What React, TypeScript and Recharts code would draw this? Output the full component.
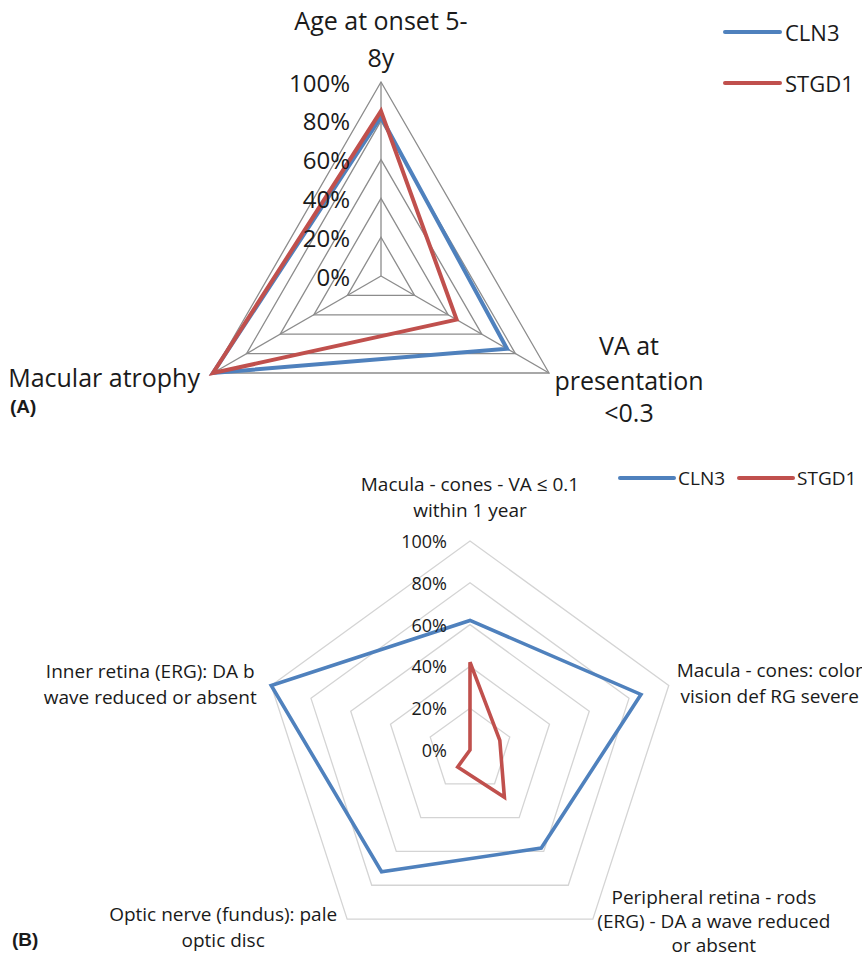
import React from 'react';
import { RadarChart, Radar, PolarGrid, PolarAngleAxis, PolarRadiusAxis, Legend } from 'recharts';

// ---------- data ----------
const seriesNames = ['CLN3', 'STGD1'];
const seriesColors = ['#4F81BD', '#C0504D'];
const radiusTicks = [0, 20, 40, 60, 80, 100];

const topCategoryLines = [['Age at onset 5-', '8y'], ['VA at', 'presentation', '<0.3'], ['Macular atrophy']];
const topCLN3 = [82, 75, 100];
const topSTGD1 = [85, 45, 100];

const bottomCategoryLines = [
  ['Macula - cones - VA ≤ 0.1', 'within 1 year'],
  ['Macula - cones: color', 'vision def RG severe'],
  ['Peripheral retina - rods', '(ERG) - DA a wave reduced', 'or absent'],
  ['Optic nerve (fundus): pale', 'optic disc'],
  ['Inner retina (ERG): DA b', 'wave reduced or absent'],
];
const bottomCLN3 = [62, 86, 58, 72, 100];
const bottomSTGD1 = [42, 15, 28, 10, 0];

const topData = topCategoryLines.map((l, i) => ({ axis: l.join(' '), CLN3: topCLN3[i], STGD1: topSTGD1[i] }));
const bottomData = bottomCategoryLines.map((l, i) => ({ axis: l.join(' '), CLN3: bottomCLN3[i], STGD1: bottomSTGD1[i] }));

// ---------- layout ----------
const FONT = '"Open Sans", sans-serif';
const topLabelLayout = [
  { dx: 0, dys: [-62, -25], anchor: 'middle' },
  { dx: 80, dys: [-28, 7, 39], anchor: 'middle' },
  { dx: -13, dys: [4], anchor: 'end' },
];
const bottomLabelLayout = [
  { dx: 0, dys: [-57, -31], anchor: 'middle' },
  { dx: 101, dys: [-15, 11], anchor: 'middle' },
  { dx: 121, dys: [-22, 2, 26], anchor: 'middle' },
  { dx: -124, dys: [-5, 21], anchor: 'middle' },
  { dx: -121, dys: [-14, 12], anchor: 'middle' },
];

const makeAngleTick = (lines: string[][], layout: any[], fontSize: number, cats: string[]) => (props: any) => {
  const { x, y, payload } = props;
  let index = props.index;
  if (index === undefined || index === null) index = cats.indexOf(payload.value);
  const a = (-payload.coordinate * Math.PI) / 180;
  const vx = x - 8 * Math.cos(a);
  const vy = y - 8 * Math.sin(a);
  const L = layout[index];
  return (
    <g>
      {lines[index].map((ln, i) => (
        <text
          key={i}
          x={vx + L.dx}
          y={vy + L.dys[i]}
          textAnchor={L.anchor}
          dominantBaseline="central"
          fontSize={fontSize}
          fontFamily={FONT}
          fill="#1a1a1a"
        >
          {ln}
        </text>
      ))}
    </g>
  );
};

const makeRadiusTick = (offset: number, fontSize: number) => (props: any) => {
  const { x, y, payload } = props;
  return (
    <text x={x - offset} y={y} textAnchor="end" dominantBaseline="central" fontSize={fontSize} fontFamily={FONT} fill="#1a1a1a">
      {payload.value + '%'}
    </text>
  );
};

const TopLegend = (props: any) => {
  const payload = props.payload || [];
  return (
    <div style={{ fontFamily: FONT }}>
      {payload.map((p: any, i: number) => (
        <div key={i} style={{ display: 'flex', alignItems: 'center', height: 51 }}>
          <svg width={60} height={8} style={{ display: 'block' }}>
            <line x1={2} y1={4} x2={57} y2={4} stroke={p.color} strokeWidth={4} strokeLinecap="round" />
          </svg>
          <span style={{ fontSize: 22, color: '#1a1a1a', marginLeft: 2 }}>{p.value}</span>
        </div>
      ))}
    </div>
  );
};

const BottomLegend = (props: any) => {
  const payload = props.payload || [];
  return (
    <div style={{ fontFamily: FONT, display: 'flex', alignItems: 'center', height: 26 }}>
      {payload.map((p: any, i: number) => (
        <div key={i} style={{ display: 'flex', alignItems: 'center', marginRight: i === 0 ? 12 : 0 }}>
          <svg width={58} height={8} style={{ display: 'block' }}>
            <line x1={2} y1={4} x2={56} y2={4} stroke={p.color} strokeWidth={4} strokeLinecap="round" />
          </svg>
          <span style={{ fontSize: 19, color: '#1a1a1a', marginLeft: 2 }}>{p.value}</span>
        </div>
      ))}
    </div>
  );
};

const topCats = topData.map((d) => d.axis);
const bottomCats = bottomData.map((d) => d.axis);

export default function App() {
  return (
    <div style={{ position: 'absolute', left: 0, top: 0, width: 862, height: 959, background: '#fff', fontFamily: FONT, overflow: 'hidden' }}>
      <div style={{ position: 'absolute', left: 0, top: 0 }}>
        <RadarChart width={862} height={440} data={topData} cx={381} cy={276} outerRadius={194} margin={{ top: 0, right: 0, bottom: 0, left: 0 }}>
          <PolarGrid gridType="polygon" stroke="#8c8c8c" strokeWidth={1.3} radialLines={true} />
          <PolarAngleAxis dataKey="axis" tickLine={false} axisLine={false} tick={makeAngleTick(topCategoryLines, topLabelLayout, 25, topCats)} />
          <PolarRadiusAxis angle={90} domain={[0, 100]} ticks={radiusTicks} tickCount={6} axisLine={false} tick={makeRadiusTick(31, 24)} />
          {seriesNames.map((s, i) => (
            <Radar key={s} name={s} dataKey={s} stroke={seriesColors[i]} strokeWidth={4} fill="none" fillOpacity={0} dot={false} isAnimationActive={false} />
          ))}
          <Legend
            layout="vertical"
            align="right"
            verticalAlign="middle"
            content={TopLegend}
            wrapperStyle={{ left: 723, top: 6, right: 'auto', bottom: 'auto', width: 139 }}
          />
        </RadarChart>
      </div>
      <div style={{ position: 'absolute', left: 0, top: 440 }}>
        <RadarChart width={862} height={519} data={bottomData} cx={470} cy={310} outerRadius={209} margin={{ top: 0, right: 0, bottom: 0, left: 0 }}>
          <PolarGrid gridType="polygon" stroke="#d4d4d4" strokeWidth={1.3} radialLines={false} />
          <PolarAngleAxis dataKey="axis" tickLine={false} axisLine={false} tick={makeAngleTick(bottomCategoryLines, bottomLabelLayout, 19, bottomCats)} />
          <PolarRadiusAxis angle={90} domain={[0, 100]} ticks={radiusTicks} tickCount={6} axisLine={false} tick={makeRadiusTick(23, 18)} />
          {seriesNames.map((s, i) => (
            <Radar key={s} name={s} dataKey={s} stroke={seriesColors[i]} strokeWidth={3.6} fill="none" fillOpacity={0} dot={false} isAnimationActive={false} />
          ))}
          <Legend
            layout="horizontal"
            align="right"
            verticalAlign="bottom"
            content={BottomLegend}
            wrapperStyle={{ left: 618, top: 25, right: 'auto', bottom: 'auto', width: 244 }}
          />
        </RadarChart>
      </div>
      <div style={{ position: 'absolute', left: 10, top: 396, fontFamily: '"Liberation Sans", Arial, sans-serif', fontWeight: 'bold', fontSize: 19, color: '#1a1a1a' }}>(A)</div>
      <div style={{ position: 'absolute', left: 12, top: 929, fontFamily: '"Liberation Sans", Arial, sans-serif', fontWeight: 'bold', fontSize: 19, color: '#1a1a1a' }}>(B)</div>
    </div>
  );
}
